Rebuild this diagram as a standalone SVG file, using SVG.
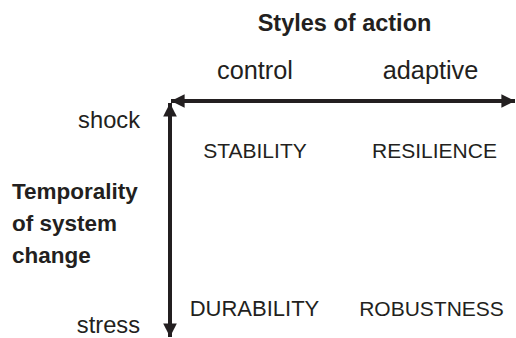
<svg xmlns="http://www.w3.org/2000/svg" width="516" height="338" viewBox="0 0 516 338">
<style>
text{font-family:"Liberation Sans",Arial,sans-serif;fill:#231f20}
.b{font-weight:bold;font-size:22.5px}
.t{font-weight:bold;font-size:23.5px}
.n{font-size:21px}
.s{font-size:23.7px}
.h{font-size:25.3px}
.l{stroke:#231f20;stroke-width:4;fill:none}
</style>
<defs>
<marker id="ah" viewBox="0 0 10 10" refX="10" refY="5" markerWidth="4" markerHeight="3.4" orient="auto" markerUnits="strokeWidth">
<path d="M0,0 L10,5 L0,10 Z" fill="#231f20"/>
</marker>
</defs>
<rect width="516" height="338" fill="#fff"/>
<g id="connectors">
<line class="l" x1="300" y1="101" x2="171" y2="101" marker-end="url(#ah)"/>
<line class="l" x1="300" y1="101" x2="515" y2="101" marker-end="url(#ah)"/>
<line class="l" x1="170" y1="230" x2="170" y2="103" marker-end="url(#ah)"/>
<line class="l" x1="170" y1="230" x2="170" y2="337" marker-end="url(#ah)"/>
</g>
<g id="title"><text class="t" x="344.5" y="31" text-anchor="middle">Styles of action</text></g>
<g id="control"><text class="h" x="255" y="79" text-anchor="middle">control</text></g>
<g id="adaptive"><text class="h" x="430.5" y="79" text-anchor="middle">adaptive</text></g>
<g id="shock"><text class="s" x="140" y="128" text-anchor="end">shock</text></g>
<g id="stress"><text class="s" x="140" y="333" text-anchor="end">stress</text></g>
<g id="temporality"><text class="b" x="12" y="199">Temporality</text><text class="b" x="12" y="231">of system</text><text class="b" x="12" y="263">change</text></g>
<g id="stability"><text class="n" x="255" y="158" text-anchor="middle">STABILITY</text></g>
<g id="resilience"><text class="n" x="434.5" y="158" text-anchor="middle">RESILIENCE</text></g>
<g id="durability"><text class="n" x="254.5" y="316" text-anchor="middle" style="font-size:22px">DURABILITY</text></g>
<g id="robustness"><text class="n" x="431.5" y="316" text-anchor="middle">ROBUSTNESS</text></g>
</svg>
